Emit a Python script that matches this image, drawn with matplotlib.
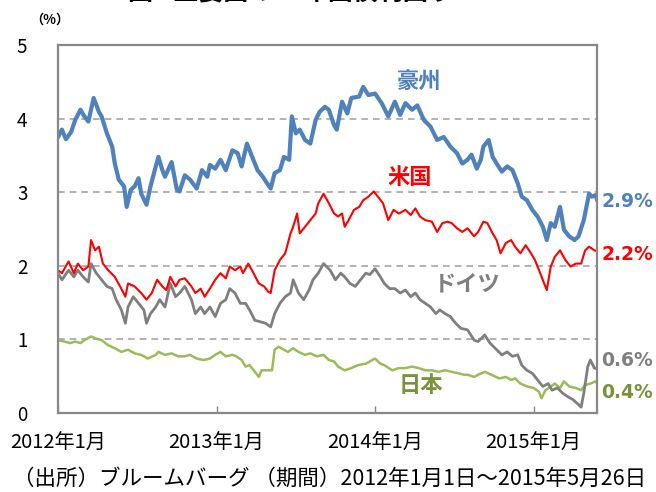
import numpy as np
import matplotlib
matplotlib.use("Agg")
import matplotlib.pyplot as plt

plt.rcParams['font.family'] = ['Noto Sans CJK JP', 'DejaVu Sans']

# (months since 2012-01-01, yield %)
australia = [(0, 3.75), (0.3, 3.85), (0.6, 3.72), (1.0, 3.82), (1.3, 3.98), (1.7, 4.12), (2.0, 4.03),
             (2.3, 3.96), (2.7, 4.28), (3.1, 4.09), (3.3, 4.03), (3.7, 3.80), (4.1, 3.62), (4.3, 3.39),
             (4.6, 3.17), (5.0, 3.08), (5.2, 2.80), (5.5, 3.03), (5.8, 3.08), (6.1, 3.19), (6.3, 2.98),
             (6.7, 2.83), (7.0, 3.08), (7.4, 3.35), (7.6, 3.48), (7.9, 3.30), (8.1, 3.21), (8.6, 3.41),
             (9.0, 3.03), (9.2, 3.01), (9.6, 3.23), (10.0, 3.17), (10.5, 3.05), (10.9, 3.30), (11.3, 3.21),
             (11.5, 3.37), (11.9, 3.32), (12.3, 3.44), (12.7, 3.30), (13.2, 3.57), (13.6, 3.53), (13.9, 3.35),
             (14.3, 3.66), (14.7, 3.48), (15.1, 3.30), (15.5, 3.21), (15.9, 3.10), (16.1, 3.05), (16.4, 3.26),
             (16.8, 3.30), (17.1, 3.48), (17.5, 3.44), (17.7, 4.03), (18.0, 3.80), (18.3, 3.85), (18.7, 3.71),
             (19.1, 3.66), (19.5, 3.98), (19.8, 4.09), (20.2, 4.16), (20.5, 4.12), (20.9, 3.91), (21.1, 3.85),
             (21.5, 4.23), (21.9, 4.07), (22.2, 4.28), (22.8, 4.30), (23.1, 4.43), (23.5, 4.32), (24.0, 4.34),
             (24.5, 4.21), (25.0, 4.03), (25.5, 4.23), (25.9, 4.05), (26.3, 4.21), (26.8, 4.12), (27.2, 4.18),
             (27.7, 3.98), (28.2, 3.89), (28.7, 3.71), (29.2, 3.75), (29.7, 3.62), (30.2, 3.53), (30.6, 3.39),
             (31.0, 3.44), (31.3, 3.51), (31.7, 3.32), (32.0, 3.44), (32.2, 3.62), (32.6, 3.71), (32.9, 3.48),
             (33.2, 3.39), (33.6, 3.28), (34.0, 3.35), (34.4, 3.30), (34.8, 3.12), (35.1, 2.94), (35.5, 2.89),
             (35.9, 2.76), (36.3, 2.67), (36.7, 2.53), (37.0, 2.35), (37.3, 2.58), (37.6, 2.53), (38.0, 2.80),
             (38.3, 2.49), (38.7, 2.40), (39.1, 2.35), (39.4, 2.40), (39.8, 2.62), (40.2, 2.98), (40.4, 2.94),
             (40.7, 2.96), (40.8, 2.90)]

usa = [(0, 1.94), (0.3, 1.90), (0.8, 2.06), (1.2, 1.90), (1.5, 2.03), (1.9, 1.94), (2.3, 1.99), (2.5, 2.35),
       (2.8, 2.21), (3.1, 2.26), (3.4, 2.03), (3.8, 1.94), (4.3, 1.85), (4.7, 1.72), (5.1, 1.58), (5.3, 1.76),
       (5.8, 1.72), (6.3, 1.63), (6.7, 1.54), (7.1, 1.63), (7.5, 1.81), (7.9, 1.72), (8.2, 1.67), (8.5, 1.85),
       (8.9, 1.72), (9.2, 1.81), (9.6, 1.83), (10.1, 1.72), (10.4, 1.63), (10.8, 1.69), (11.1, 1.58),
       (11.5, 1.69), (11.9, 1.81), (12.3, 1.90), (12.7, 1.83), (13.0, 1.99), (13.4, 1.94), (13.8, 1.99),
       (14.0, 1.90), (14.4, 2.03), (14.8, 1.90), (15.2, 1.76), (15.6, 1.72), (15.9, 1.65), (16.1, 1.63),
       (16.4, 1.94), (16.8, 2.08), (17.2, 2.17), (17.6, 2.44), (17.8, 2.53), (18.1, 2.71), (18.3, 2.44),
       (18.7, 2.53), (19.1, 2.62), (19.5, 2.71), (19.7, 2.85), (20.1, 2.98), (20.5, 2.85), (20.9, 2.71),
       (21.2, 2.67), (21.5, 2.71), (21.7, 2.53), (22.0, 2.62), (22.4, 2.76), (22.8, 2.80), (23.1, 2.89),
       (23.5, 2.94), (23.9, 3.01), (24.3, 2.92), (24.6, 2.85), (25.0, 2.62), (25.4, 2.76), (25.8, 2.71),
       (26.3, 2.76), (26.7, 2.69), (27.05, 2.78), (27.4, 2.67), (27.8, 2.62), (28.3, 2.60), (28.7, 2.46),
       (29.1, 2.58), (29.5, 2.60), (29.8, 2.58), (30.2, 2.51), (30.6, 2.46), (31.0, 2.51), (31.5, 2.40),
       (31.8, 2.46), (32.2, 2.60), (32.5, 2.58), (32.9, 2.44), (33.2, 2.35), (33.5, 2.17), (33.9, 2.31),
       (34.3, 2.35), (34.6, 2.26), (35.0, 2.17), (35.4, 2.28), (35.8, 2.17), (36.1, 2.08), (36.5, 1.90),
       (36.8, 1.76), (37.0, 1.67), (37.3, 1.99), (37.6, 2.12), (38.0, 2.21), (38.4, 2.08), (38.8, 1.99),
       (39.2, 2.03), (39.6, 2.03), (39.9, 2.21), (40.2, 2.26), (40.6, 2.21), (40.8, 2.20)]

germany = [(0, 1.90), (0.3, 1.81), (0.8, 1.94), (1.2, 1.85), (1.5, 1.94), (1.9, 1.85), (2.3, 1.78), (2.5, 2.03),
           (2.9, 1.90), (3.3, 1.81), (3.7, 1.72), (4.1, 1.69), (4.4, 1.54), (4.8, 1.40), (5.1, 1.22), (5.3, 1.44),
           (5.7, 1.58), (6.1, 1.49), (6.5, 1.40), (6.7, 1.22), (7.0, 1.35), (7.4, 1.44), (7.7, 1.54), (8.1, 1.44),
           (8.5, 1.76), (8.9, 1.58), (9.2, 1.63), (9.6, 1.72), (10.1, 1.54), (10.4, 1.35), (10.8, 1.44),
           (11.1, 1.35), (11.5, 1.44), (11.9, 1.31), (12.3, 1.49), (12.7, 1.54), (13.0, 1.69), (13.4, 1.63),
           (13.8, 1.49), (14.2, 1.49), (14.5, 1.40), (14.9, 1.26), (15.3, 1.24), (15.7, 1.22), (16.1, 1.17),
           (16.4, 1.35), (16.8, 1.49), (17.2, 1.58), (17.6, 1.63), (17.8, 1.81), (18.2, 1.63), (18.6, 1.54),
           (19.0, 1.67), (19.3, 1.81), (19.7, 1.90), (20.1, 2.03), (20.6, 1.94), (21.0, 1.81), (21.4, 1.90),
           (21.7, 1.85), (22.1, 1.76), (22.5, 1.72), (22.9, 1.81), (23.3, 1.90), (23.6, 1.88), (24.0, 1.96),
           (24.4, 1.85), (24.7, 1.76), (25.1, 1.69), (25.5, 1.69), (25.9, 1.63), (26.3, 1.67), (26.7, 1.58),
           (27.05, 1.63), (27.4, 1.54), (27.8, 1.49), (28.2, 1.44), (28.6, 1.35), (28.9, 1.40), (29.3, 1.35),
           (29.7, 1.31), (30.1, 1.22), (30.5, 1.15), (31.0, 1.13), (31.5, 0.99), (31.8, 0.97), (32.3, 1.06),
           (32.7, 0.95), (33.2, 0.86), (33.6, 0.79), (34.0, 0.83), (34.4, 0.77), (34.8, 0.79), (35.1, 0.65),
           (35.5, 0.58), (35.9, 0.54), (36.3, 0.45), (36.7, 0.36), (37.1, 0.40), (37.4, 0.31), (37.8, 0.34),
           (38.2, 0.27), (38.6, 0.22), (39.0, 0.18), (39.3, 0.13), (39.6, 0.08), (39.8, 0.27), (40.1, 0.63),
           (40.3, 0.72), (40.6, 0.61), (40.8, 0.60)]

japan = [(0, 0.99), (0.5, 0.97), (0.9, 0.95), (1.3, 0.97), (1.7, 0.95), (2.0, 0.99), (2.5, 1.04), (2.9, 1.01),
         (3.3, 0.99), (3.8, 0.92), (4.3, 0.88), (4.8, 0.83), (5.3, 0.86), (5.8, 0.81), (6.3, 0.79), (6.8, 0.74),
         (7.4, 0.79), (7.6, 0.83), (8.1, 0.79), (8.6, 0.81), (9.1, 0.77), (9.6, 0.77), (10.0, 0.79), (10.5, 0.74),
         (11.0, 0.72), (11.5, 0.74), (11.9, 0.79), (12.3, 0.83), (12.7, 0.77), (13.2, 0.79), (13.5, 0.77),
         (13.9, 0.72), (14.2, 0.63), (14.5, 0.65), (14.9, 0.56), (15.2, 0.49), (15.4, 0.58), (15.8, 0.58),
         (16.2, 0.58), (16.4, 0.86), (16.7, 0.90), (17.1, 0.86), (17.4, 0.83), (17.8, 0.88), (18.2, 0.83),
         (18.7, 0.79), (19.1, 0.81), (19.6, 0.77), (20.1, 0.79), (20.5, 0.72), (20.9, 0.70), (21.2, 0.63),
         (21.7, 0.58), (22.2, 0.61), (22.7, 0.65), (23.3, 0.67), (23.6, 0.70), (24.0, 0.74), (24.4, 0.67),
         (24.7, 0.65), (25.3, 0.58), (25.8, 0.61), (26.3, 0.61), (26.8, 0.63), (27.3, 0.61), (27.8, 0.58),
         (28.3, 0.58), (28.8, 0.56), (29.3, 0.58), (29.8, 0.56), (30.3, 0.54), (30.7, 0.52), (31.0, 0.52),
         (31.5, 0.49), (31.8, 0.52), (32.3, 0.56), (32.8, 0.52), (33.4, 0.47), (33.9, 0.49), (34.3, 0.45),
         (34.6, 0.47), (35.0, 0.40), (35.5, 0.36), (36.0, 0.34), (36.4, 0.29), (36.6, 0.20), (36.9, 0.31),
         (37.3, 0.36), (37.6, 0.40), (38.0, 0.34), (38.3, 0.43), (38.7, 0.36), (39.2, 0.34), (39.6, 0.31),
         (39.9, 0.38), (40.3, 0.40), (40.7, 0.43), (40.8, 0.40)]

tick_months = [0, 12, 24, 36]
tick_labels = ['2012年1月', '2013年1月', '2014年1月', '2015年1月']
end_labels = ['2.9%', '2.2%', '0.6%', '0.4%']
names = ['豪州', '米国', 'ドイツ', '日本']

fig = plt.figure(figsize=(6.56, 4.92), dpi=100)
ax = fig.add_axes([58 / 656, 1 - 413 / 492, 539 / 656, 368 / 492])

series = [
    (australia, '#4F81BD', 3.0),
    (usa, '#FF0000', 1.5),
    (germany, '#7F7F7F', 2.0),
    (japan, '#9BBB59', 1.8),
]
for data, color, lw in series[::-1]:
    m, v = zip(*data)
    ax.plot(m, v, color=color, lw=lw, solid_joinstyle='round')

ax.set_xlim(0, 40.8)
ax.set_ylim(0, 5)
for y in [1, 2, 3, 4]:
    ax.axhline(y, color='#A6A6A6', lw=1.2, ls=(0, (4, 3)), zorder=0)

for s in ax.spines.values():
    s.set_color('#888888')
    s.set_linewidth(1.6)

ax.set_yticks([0, 1, 2, 3, 4, 5])
ax.set_yticklabels(['0', '1', '2', '3', '4', '5'])
ax.tick_params(axis='y', length=0, pad=22, labelsize=13.5)
ax.set_xticks(tick_months)
ax.set_xticklabels(tick_labels)
ax.tick_params(axis='x', direction='in', length=5, width=1, color='#888888', pad=14, labelsize=14.5)

# series names
ax.text(27.3, 4.5, names[0], color='#4F81BD', fontsize=16, fontweight='bold', ha='center', va='center')
ax.text(26.6, 3.2, names[1], color='#FF0000', fontsize=16, fontweight='bold', ha='center', va='center')
ax.text(31.0, 1.76, names[2], color='#7F7F7F', fontsize=16, fontweight='bold', ha='center', va='center')
ax.text(27.5, 0.38, names[3], color='#77933C', fontsize=16, fontweight='bold', ha='center', va='center')

# latest values on the right
end_colors = ['#4F81BD', '#FF0000', '#7F7F7F', '#77933C']
end_y = [2.87, 2.15, 0.72, 0.28]
for lab, c, y in zip(end_labels, end_colors, end_y):
    ax.text(1.008, y / 5, lab, transform=ax.transAxes, color=c, fontsize=13.5,
            fontweight='bold', ha='left', va='center', family=['DejaVu Sans'])

fig.text(50 / 656, 1 - 20 / 492, '（%）', fontsize=9.5, fontweight='bold', ha='center', va='center')
# title sits mostly above the top edge, as in the original crop
fig.text(290 / 656, 1.0, '図1 主要国の10年国債利回り', fontsize=18, fontweight='bold',
         ha='center', va='baseline')
fig.text(330 / 656, 1 - 479 / 492, '（出所）ブルームバーグ （期間）2012年1月1日～2015年5月26日',
         fontsize=15.5, ha='center', va='center')

fig.savefig('out.png', dpi=100, facecolor='white')
